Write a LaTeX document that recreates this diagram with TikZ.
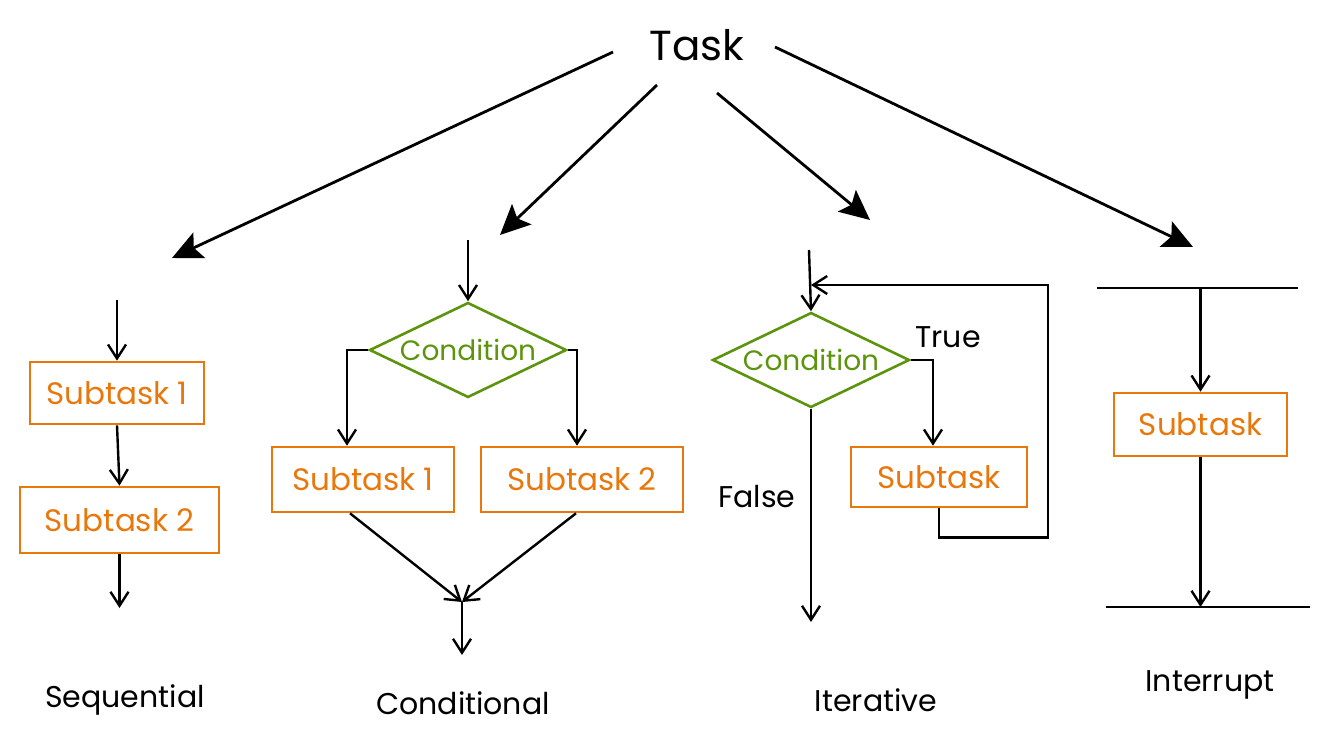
\documentclass[tikz,border=0pt]{standalone}
\usepackage{fontspec}
\setmainfont{Poppins}
\usetikzlibrary{shapes.geometric,arrows.meta,calc}
\definecolor{orng}{RGB}{232,119,12}
\definecolor{grn}{RGB}{92,148,13}
\tikzset{
  box/.style={draw=orng, line width=2.6pt, text=orng, inner sep=0pt,
    font=\fontsize{31}{36}\selectfont},
  cond/.style={diamond, draw=grn, line width=2.6pt, inner sep=0pt},
  condtext/.style={text=grn, font=\fontsize{28}{32}\selectfont},
  arr/.style={-{Straight Barb[length=14pt,width=18pt,line width=2.4pt]}, line width=2.4pt},
  bigarr/.style={-{Stealth[length=30pt,width=28pt,inset=6pt]}, line width=2.8pt},
  plain/.style={line width=2.6pt},
  lbl/.style={font=\fontsize{30}{34}\selectfont, text=black},
  title/.style={font=\fontsize{42}{48}\selectfont, text=black}
}
\begin{document}
\begin{tikzpicture}[x=1pt,y=-1pt]
\useasboundingbox (0,0) rectangle (1331,746);
% Task
\node[title] (task) at (697,45) {Task};
\coordinate (t1s) at (613,52);  \coordinate (t1e) at (172,258);
\coordinate (t2s) at (657,85);  \coordinate (t2e) at (500,235);
\coordinate (t3s) at (717,93);  \coordinate (t3e) at (870,220);
\coordinate (t4s) at (775,47);  \coordinate (t4e) at (1193,247);
\draw[bigarr] (t1s) -- (t1e);
\draw[bigarr] (t2s) -- (t2e);
\draw[bigarr] (t3s) -- (t3e);
\draw[bigarr] (t4s) -- (t4e);

% Sequential
\node[box, minimum width=174pt, minimum height=62pt] (ssub1) at (117,393) {Subtask 1};
\node[box, minimum width=199pt, minimum height=66pt] (ssub2) at (119.5,520) {Subtask 2};
\coordinate (sin) at (117,300);
\coordinate (sout) at (119.5,608);
\draw[arr] (sin) -- (ssub1.north);
\draw[arr] (ssub1.south) -- (ssub2.north);
\draw[arr] (ssub2.south) -- (sout);
\node[lbl] (lseq) at (125,700) {Sequential};

% Conditional
\node[cond, minimum width=197pt, minimum height=95pt,
      label={[condtext]center:Condition}] (c1) at (468,350) {};
\node[box, minimum width=182pt, minimum height=65pt] (csub1) at (363,479.5) {Subtask 1};
\node[box, minimum width=202pt, minimum height=65pt] (csub2) at (582,479.5) {Subtask 2};
\coordinate (cin) at (468,240);
\coordinate (cm) at (462,602);
\coordinate (cout) at (462,655);
\draw[arr] (cin) -- (c1.north);
\draw[arr] (c1.west) -| ([xshift=-16pt]csub1.north);
\draw[arr] (c1.east) -| ([xshift=-5pt]csub2.north);
\draw[arr] ([xshift=-13pt]csub1.south) -- (cm);
\draw[arr] ([xshift=-6pt]csub2.south) -- (cm);
\draw[arr] (cm) -- (cout);
\node[lbl] (lcond) at (463,703) {Conditional};

% Iterative
\node[cond, minimum width=197pt, minimum height=95pt,
      label={[condtext]center:Condition}] (c2) at (811,360) {};
\node[box, minimum width=176pt, minimum height=60pt] (isub) at (939,477) {Subtask};
\coordinate (iin) at (809,250);
\coordinate (ilc) at (1048,285);
\coordinate (ilin) at (811,285);
\coordinate (iout) at (811,622);
\draw[arr] (iin) -- (c2.north);
\draw[arr] (c2.east) -| ([xshift=-6pt]isub.north);
\draw[arr] (isub.south) -- ++(0,29) -| (ilc) -- (ilin);
\draw[arr] (c2.south) -- (iout);
\node[lbl] (ltrue) at (948,337) {True};
\node[lbl] (lfalse) at (757,497) {False};
\node[lbl] (liter) at (876,700) {Iterative};

% Interrupt
\coordinate (b1l) at (1097,288); \coordinate (b1r) at (1298,288);
\coordinate (b2l) at (1106,607); \coordinate (b2r) at (1310,607);
\draw[plain] (b1l) -- (b1r);
\draw[plain] (b2l) -- (b2r);
\node[box, minimum width=173pt, minimum height=63pt] (rsub) at (1200.5,424.5) {Subtask};
\coordinate (rin) at (1200.5,288);
\coordinate (rout) at (1200.5,607);
\draw[arr] (rin) -- (rsub.north);
\draw[arr] (rsub.south) -- (rout);
\node[lbl] (lint) at (1210,685) {Interrupt};
\end{tikzpicture}
\end{document}
